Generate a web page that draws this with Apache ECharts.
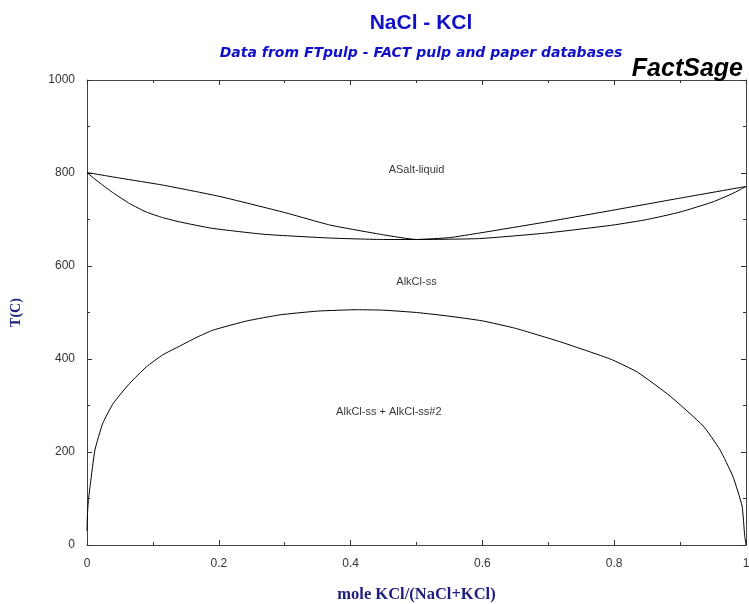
<!DOCTYPE html>
<html>
<head>
<meta charset="utf-8">
<script src="https://cdn.jsdelivr.net/npm/echarts@6/dist/echarts.min.js"></script>
<style>
  html, body { margin: 0; padding: 0; background: #fff; }
  #chart { width: 749px; height: 604px; }
</style>
</head>
<body>
<div id="chart"></div>
<script>
// liquidus (upper curve of the melting loop)
const liquidusX = [0, 0.05, 0.115, 0.2, 0.3, 0.369, 0.45, 0.5, 0.55, 0.596, 0.698, 0.798, 0.9, 1.0];
const liquidusT = [801, 789, 774, 750, 715, 688, 667, 657, 661, 671, 695, 720, 746, 771];

// solidus (lower curve of the melting loop)
const solidusX = [0, 0.01, 0.02, 0.04, 0.065, 0.09, 0.115, 0.14, 0.19, 0.27, 0.37, 0.45, 0.5, 0.596, 0.698, 0.798, 0.85, 0.9, 0.95, 0.98, 1.0];
const solidusT = [801, 789, 778, 757, 734, 716, 704, 695, 681, 668, 660, 657, 657, 659, 671, 688, 700, 716, 738, 756, 771];

// miscibility gap
const solvusX = [0, 0.0005, 0.002, 0.005, 0.012, 0.024, 0.04, 0.065, 0.09, 0.115, 0.141, 0.167, 0.191, 0.243,
  0.293, 0.35, 0.41, 0.45, 0.5, 0.55, 0.6, 0.65, 0.718, 0.794, 0.835, 0.885, 0.935, 0.96, 0.98, 0.994, 0.998, 1.0];
const solvusT = [30, 60, 95, 130, 204, 262, 305, 348, 383, 409, 428, 447, 462, 482,
  495, 503, 506, 505, 500, 492, 482, 466, 437, 400, 372, 320, 256, 206, 148, 84, 20, 0];

// phase field labels
const fieldNames = ['ASalt-liquid', 'AlkCl-ss', 'AlkCl-ss + AlkCl-ss#2'];
const fieldX = [0.5, 0.5, 0.458];
const fieldT = [806, 566, 286];

const zip = (xs, ys) => xs.map((x, i) => [x, ys[i]]);

const chart = echarts.init(document.getElementById('chart'));

const curve = (name, xs, ys) => ({
    name: name,
    type: 'line',
    data: zip(xs, ys),
    symbol: 'none',
    smooth: 0.15,
    lineStyle: { color: '#000', width: 1 },
    silent: true
});

const tickStyle = { color: '#333', width: 1 };
const frameLine = { show: true, onZero: false, lineStyle: { color: '#444', width: 1 } };

chart.setOption({
    animation: false,
    backgroundColor: '#fff',
    title: [
        {
            text: 'NaCl - KCl',
            left: 416, top: 8, textAlign: 'center',
            textStyle: { color: '#1010c8', fontSize: 21, fontWeight: 'bold', fontFamily: 'Liberation Sans' }
        },
        {
            text: 'Data from FTpulp - FACT pulp and paper databases',
            left: 416, top: 41, textAlign: 'center',
            textStyle: { color: '#1010c8', fontSize: 14, fontWeight: 'bold', fontStyle: 'italic', fontFamily: 'DejaVu Sans' }
        },
        {
            text: 'FactSage',
            right: 1, top: 52,
            textStyle: { color: '#000', fontSize: 25, fontWeight: 'bold', fontStyle: 'italic', fontFamily: 'Liberation Sans' }
        }
    ],
    grid: { left: 87, right: 3, top: 80, bottom: 59, show: false, outerBoundsMode: 'none', containLabel: false },
    xAxis: [
        {
            type: 'value', min: 0, max: 1, interval: 0.2,
            name: 'mole KCl/(NaCl+KCl)', nameLocation: 'middle', nameGap: 41,
            nameTextStyle: { color: '#202080', fontSize: 16.5, fontWeight: 'bold', fontFamily: 'Liberation Serif' },
            axisLine: frameLine,
            axisTick: { inside: true, length: 5, lineStyle: tickStyle },
            minorTick: { show: true, splitNumber: 2, length: 3, lineStyle: tickStyle },
            axisLabel: { color: '#333', fontSize: 12, fontFamily: 'Liberation Sans', margin: 13,
                formatter: v => (v === 0 || v === 1) ? String(v) : v.toFixed(1) },
            splitLine: { show: false }
        },
        {
            type: 'value', min: 0, max: 1, interval: 0.2, position: 'top',
            axisLine: frameLine,
            axisTick: { inside: true, length: 5, lineStyle: tickStyle },
            minorTick: { show: true, splitNumber: 2, length: 3, lineStyle: tickStyle },
            axisLabel: { show: false },
            splitLine: { show: false }
        }
    ],
    yAxis: [
        {
            type: 'value', min: 0, max: 1000, interval: 200,
            name: 'T(C)', nameLocation: 'middle', nameGap: 64, nameRotate: 90,
            nameTextStyle: { color: '#202080', fontSize: 14, fontWeight: 'bold', fontFamily: 'Liberation Serif' },
            axisLine: frameLine,
            axisTick: { show: true, inside: true, length: 5, lineStyle: tickStyle },
            minorTick: { show: true, splitNumber: 2, length: 3, lineStyle: tickStyle },
            axisLabel: { color: '#333', fontSize: 12, fontFamily: 'Liberation Sans', margin: 12,
                formatter: v => String(v) },
            splitLine: { show: false }
        },
        {
            type: 'value', min: 0, max: 1000, interval: 200, position: 'right',
            axisLine: frameLine,
            axisTick: { show: true, inside: true, length: 5, lineStyle: tickStyle },
            minorTick: { show: true, splitNumber: 2, length: 3, lineStyle: tickStyle },
            axisLabel: { show: false },
            splitLine: { show: false }
        }
    ],
    series: [
        curve('liquidus', liquidusX, liquidusT),
        curve('solidus', solidusX, solidusT),
        curve('solvus', solvusX, solvusT),
        {
            name: 'fields',
            type: 'scatter',
            symbolSize: 0,
            silent: true,
            data: fieldNames.map((n, i) => ({ name: n, value: [fieldX[i], fieldT[i]] })),
            label: {
                show: true, position: 'inside',
                formatter: p => p.name,
                color: '#000', fontSize: 11, fontFamily: 'Liberation Sans'
            }
        }
    ]
});
</script>
</body>
</html>
